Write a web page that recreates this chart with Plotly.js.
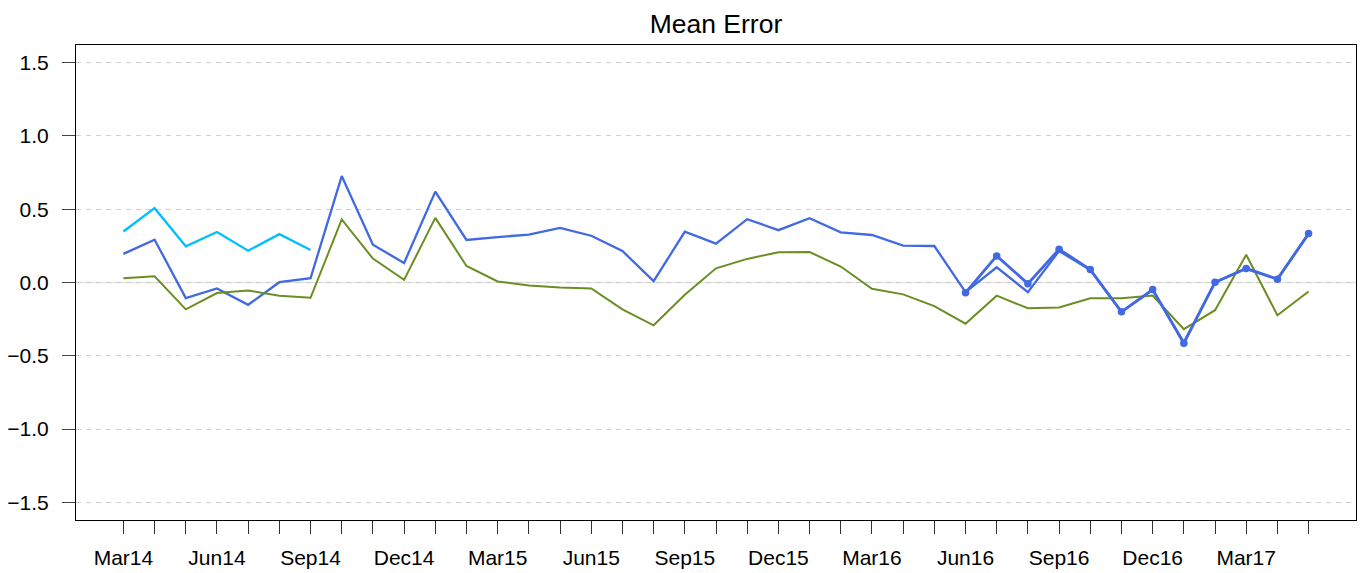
<!DOCTYPE html>
<html>
<head>
<meta charset="utf-8">
<script src="https://cdn.plot.ly/plotly-3.0.1.min.js"></script>
<style>html,body{margin:0;padding:0;background:#fff;}#chart{width:1364px;height:573px;}</style>
</head>
<body>
<div id="chart"></div>
<script>
// Months (categories)
var months = ["Mar14","Apr14","May14","Jun14","Jul14","Aug14","Sep14","Oct14","Nov14","Dec14",
  "Jan15","Feb15","Mar15","Apr15","May15","Jun15","Jul15","Aug15","Sep15","Oct15","Nov15","Dec15",
  "Jan16","Feb16","Mar16","Apr16","May16","Jun16","Jul16","Aug16","Sep16","Oct16","Nov16","Dec16",
  "Jan17","Feb17","Mar17","Apr17","May17"];
var tickLabels = ["Mar14","Jun14","Sep14","Dec14","Mar15","Jun15","Sep15","Dec15","Mar16","Jun16","Sep16","Dec16","Mar17"];

// Series values
var cyanMonths = ["Mar14","Apr14","May14","Jun14","Jul14","Aug14","Sep14"];
var cyanValues = [0.348, 0.507, 0.247, 0.344, 0.217, 0.330, 0.222];

var blueValues = [0.195, 0.292, -0.106, -0.041, -0.152, 0.002, 0.029, 0.726, 0.258, 0.133,
  0.620, 0.290, 0.310, 0.326, 0.373, 0.319, 0.215, 0.009, 0.346, 0.265,
  0.432, 0.357, 0.439, 0.342, 0.324, 0.251, 0.249, -0.066, 0.104, -0.066,
  0.215, 0.085, -0.200, -0.050, -0.410, 0.000, 0.095, 0.023, 0.330];

var greenValues = [0.029, 0.043, -0.183, -0.072, -0.054, -0.090, -0.104, 0.430, 0.163, 0.018,
  0.441, 0.113, 0.007, -0.020, -0.034, -0.041, -0.183, -0.292, -0.084, 0.097,
  0.161, 0.206, 0.208, 0.109, -0.043, -0.081, -0.161, -0.281, -0.090, -0.176,
  -0.170, -0.107, -0.107, -0.089, -0.318, -0.189, 0.189, -0.223, -0.061];

var dotMonths = ["Jun16","Jul16","Aug16","Sep16","Oct16","Nov16","Dec16","Jan17","Feb17","Mar17","Apr17","May17"];
var dotValues = [-0.070, 0.181, -0.008, 0.227, 0.089, -0.200, -0.048, -0.414, 0.002, 0.095, 0.023, 0.334];

var yTicks = [-1.5, -1.0, -0.5, 0.0, 0.5, 1.0, 1.5];

var tickText = months.map(function(m){ return tickLabels.indexOf(m) >= 0 ? m : ""; });

var traces = [
  {x: months, y: blueValues, type: "scatter", mode: "lines", line: {color: "#4169E1", width: 2.3}, hoverinfo: "skip"},
  {x: months, y: greenValues, type: "scatter", mode: "lines", line: {color: "#6B8E23", width: 2}, hoverinfo: "skip"},
  {x: cyanMonths, y: cyanValues, type: "scatter", mode: "lines", line: {color: "#00BFFF", width: 2.3}, hoverinfo: "skip"},
  {x: dotMonths, y: dotValues, type: "scatter", mode: "lines+markers", line: {color: "#4169E1", width: 2.8},
   marker: {color: "#4169E1", size: 7.5}, hoverinfo: "skip"}
];

var fontFam = "Liberation Sans, Arial, Helvetica, sans-serif";

var layout = {
  width: 1364, height: 573,
  margin: {l: 76, r: 8, t: 45, b: 53, pad: 0},
  paper_bgcolor: "#ffffff", plot_bgcolor: "#ffffff",
  showlegend: false,
  font: {family: fontFam, size: 21, color: "#000"},
  title: {text: "Mean Error", font: {family: fontFam, size: 26.5, color: "#000"},
          x: 0.5, xref: "paper", xanchor: "center", y: 1 - 24/573, yref: "container", yanchor: "middle"},
  xaxis: {
    type: "category", categoryorder: "array", categoryarray: months,
    range: [-1.52, 39.52], autorange: false,
    tickmode: "array", tickvals: months, ticktext: tickText,
    ticks: "outside", ticklen: 13, tickwidth: 1, tickcolor: "#333",
    ticklabelstandoff: 6,
    showgrid: false, zeroline: false,
    showline: true, linecolor: "#000", linewidth: 1, mirror: true,
    tickfont: {family: fontFam, size: 21, color: "#000"}
  },
  yaxis: {
    range: [-1.62, 1.62], autorange: false,
    tickmode: "array", tickvals: yTicks, tickformat: ".1f",
    ticks: "outside", ticklen: 13, tickwidth: 1, tickcolor: "#444",
    ticklabelstandoff: 9,
    showgrid: true, gridcolor: "#cfcfcf", gridwidth: 1, griddash: "5px,5px",
    zeroline: false,
    showline: true, linecolor: "#000", linewidth: 1, mirror: true,
    tickfont: {family: fontFam, size: 21, color: "#000"}
  },
  shapes: [
    {type: "line", xref: "paper", x0: 0, x1: 1, yref: "y", y0: 0, y1: 0, layer: "below",
     line: {color: "#e4e4e4", width: 1.5}}
  ]
};

Plotly.newPlot("chart", traces, layout, {staticPlot: true, displayModeBar: false});
</script>
</body>
</html>
